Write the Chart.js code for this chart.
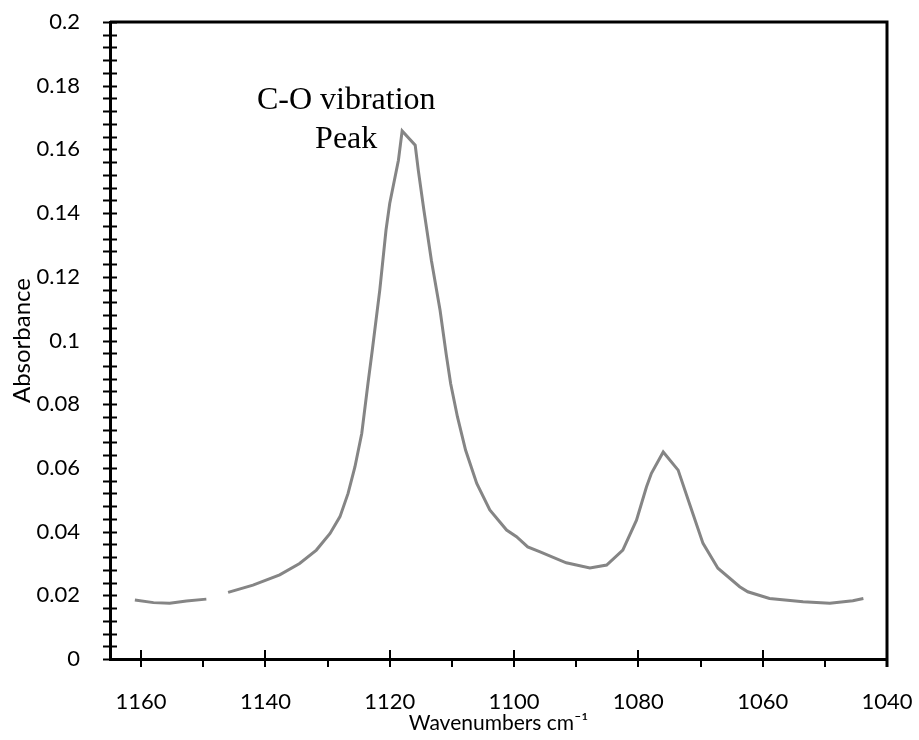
<!DOCTYPE html>
<html>
<head>
<meta charset="utf-8">
<script src="https://cdn.jsdelivr.net/npm/chart.js@4.4.0/dist/chart.umd.min.js"></script>
<style>
  html, body { margin: 0; padding: 0; background: #fff; }
  #wrap { width: 919px; height: 740px; }
</style>
</head>
<body>
<div id="wrap"><canvas id="grafica" width="919" height="740"></canvas></div>
<script>
// DATOS
const wavenumbers = [1161.0, 1158.0, 1155.4, 1152.7, 1149.5, 1148.0, 1146.0, 1142.0, 1137.7, 1134.5,
  1131.8, 1129.6, 1128.0, 1126.7, 1125.6, 1124.5, 1123.5, 1122.8, 1121.6, 1120.6,
  1120.0, 1118.6, 1118.0, 1115.9, 1115.4, 1114.5, 1113.3, 1111.9, 1110.9, 1110.2,
  1109.1, 1107.8, 1106.0, 1103.9, 1101.2, 1099.6, 1097.8, 1095.9, 1091.6, 1087.8,
  1085.1, 1082.5, 1080.3, 1078.7, 1077.9, 1076.0, 1073.6, 1071.8, 1069.6, 1067.2,
  1063.7, 1062.4, 1058.9, 1053.5, 1049.2, 1045.5, 1043.8];
const absorbance = [0.0185, 0.0177, 0.0175, 0.0182, 0.0188, null, 0.0209, 0.0232, 0.0264, 0.0300,
  0.0342, 0.0394, 0.0447, 0.0520, 0.0603, 0.0708, 0.0865, 0.0970, 0.1158, 0.1346,
  0.1430, 0.1566, 0.1658, 0.1613, 0.1534, 0.1409, 0.1252, 0.1095, 0.0955, 0.0865,
  0.0760, 0.0656, 0.0551, 0.0468, 0.0405, 0.0384, 0.0352, 0.0337, 0.0302, 0.0286,
  0.0295, 0.0342, 0.0436, 0.0540, 0.0583, 0.0650, 0.0593, 0.0489, 0.0363, 0.0285,
  0.0227, 0.0211, 0.0190, 0.0180, 0.0175, 0.0183, 0.0190];

const xMin = 1040, xMax = 1165;
const yMin = 0, yMax = 0.2;

// anotacion
const notaLineas = ["C-O vibration", "Peak"];
const notaX = 1127;
const notaY = [0.1726, 0.1603];

const puntos = wavenumbers.map((w, i) => ({x: w, y: absorbance[i]}));

// marcas de los ejes + marco + texto
const marcos = {
  id: 'marcos',
  afterDatasetsDraw(chart) {
    const ctx = chart.ctx;
    const a = chart.chartArea;
    const sx = chart.scales.x, sy = chart.scales.y;
    ctx.save();
    ctx.strokeStyle = '#000';
    ctx.lineWidth = 2;
    sy.ticks.forEach(t => {
      const py = Math.round(sy.getPixelForValue(t.value)) + 0.5;
      ctx.beginPath();
      ctx.moveTo(a.left - 7, py);
      ctx.lineTo(a.left + 7, py);
      ctx.stroke();
    });
    sx.ticks.forEach(t => {
      const px = Math.round(sx.getPixelForValue(t.value));
      const mayor = Math.round(t.value) % 20 === 0;
      ctx.beginPath();
      ctx.moveTo(px, mayor ? a.bottom - 9 : a.bottom);
      ctx.lineTo(px, a.bottom + 8);
      ctx.stroke();
    });
    ctx.lineWidth = 3;
    ctx.beginPath();
    ctx.moveTo(a.left, a.top);
    ctx.lineTo(a.right, a.top);
    ctx.lineTo(a.right, a.bottom + 8);
    ctx.stroke();

    ctx.fillStyle = '#000';
    ctx.font = '32px "Liberation Serif", "Times New Roman", serif';
    ctx.textAlign = 'center';
    ctx.textBaseline = 'alphabetic';
    notaLineas.forEach((txt, i) => {
      ctx.fillText(txt, sx.getPixelForValue(notaX), sy.getPixelForValue(notaY[i]));
    });
    ctx.restore();
  }
};

const fuente = 'Lato, "Open Sans", sans-serif';

new Chart(document.getElementById('grafica').getContext('2d'), {
  type: 'scatter',
  data: {
    datasets: [{
      label: 'Absorbance',
      data: puntos,
      showLine: true,
      spanGaps: false,
      borderColor: '#858585',
      borderWidth: 3,
      pointRadius: 0,
      tension: 0
    }]
  },
  options: {
    responsive: false,
    animation: false,
    layout: { padding: { top: 22, right: 32, left: 0, bottom: 0 } },
    plugins: { legend: { display: false }, tooltip: { enabled: false } },
    scales: {
      x: {
        type: 'linear',
        reverse: true,
        min: xMin,
        max: xMax,
        grid: { display: false },
        border: { display: true, color: '#000', width: 3 },
        ticks: {
          stepSize: 10,
          includeBounds: false,
          color: '#000',
          font: { family: fuente, size: 22 },
          padding: 22,
          maxRotation: 0,
          autoSkip: false,
          callback: v => (Math.round(v) % 20 === 0 ? String(Math.round(v)) : '')
        },
        title: {
          display: true,
          text: 'Wavenumbers cm\u207B\u00B9',
          color: '#000',
          font: { family: fuente, size: 21 },
          padding: { top: 0, bottom: 4 }
        },
        afterFit: s => { s.height = 81; s.paddingLeft = 0; s.paddingRight = 0; }
      },
      y: {
        min: yMin,
        max: yMax,
        grid: { display: false },
        border: { display: true, color: '#000', width: 3 },
        ticks: {
          stepSize: 0.004,
          color: '#000',
          font: { family: fuente, size: 22 },
          padding: 22,
          autoSkip: false,
          callback: v => {
            const k = Math.round(v * 1000);
            return k % 20 === 0 ? String(k / 1000) : '';
          }
        },
        title: {
          display: true,
          text: 'Absorbance',
          color: '#000',
          font: { family: fuente, size: 24 },
          padding: { top: 8, bottom: 0 }
        },
        afterFit: s => { s.width = 110; s.paddingTop = 0; s.paddingBottom = 0; }
      }
    }
  },
  plugins: [marcos]
});
</script>
</body>
</html>
